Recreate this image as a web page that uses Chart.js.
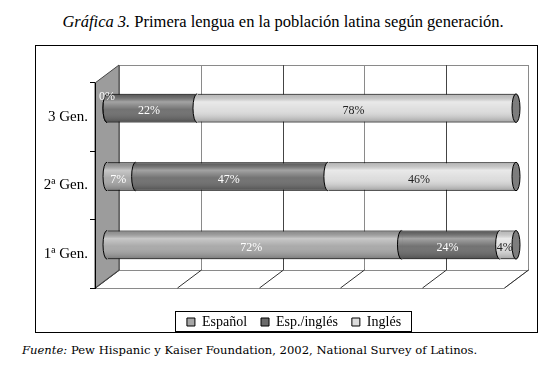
<!DOCTYPE html>
<html>
<head>
<meta charset="utf-8">
<script src="https://cdn.jsdelivr.net/npm/chart.js@4"></script>
<style>
  body { margin: 0; background: #fff; width: 560px; height: 370px; position: relative; font-family: "Liberation Serif", serif; color: #000; }
  #title { position: absolute; top: 12px; left: 0; width: 566px; text-align: center; font-size: 16.5px; }
  #frame { position: absolute; left: 35px; top: 45px; width: 501px; height: 286px; border: 1px solid #000; }
  #source { position: absolute; left: 22px; top: 343px; font-family: "DejaVu Serif", serif; font-size: 11.6px; }
</style>
</head>
<body>
<div id="title"><i>Gráfica 3.</i> Primera lengua en la población latina según generación.</div>
<div id="frame"><canvas id="chart" width="501" height="286"></canvas></div>
<div id="source"><i>Fuente:</i> Pew Hispanic y Kaiser Foundation, 2002, National Survey of Latinos.</div>
<script>
const generaciones = ["3 Gen.", "2ª Gen.", "1ª Gen."];
const series = ["Español", "Esp./inglés", "Inglés"];
const espanol = [0, 7, 72];
const espIngles = [22, 47, 24];
const ingles = [78, 46, 4];

const colors = ["#a6a6a6", "#6b6b6b", "#dcdcdc"];
const labelColors = ["#fff", "#fff", "#222"];

Chart.defaults.font.family = "'Liberation Serif', serif";
Chart.defaults.color = "#000";

// 3D depth of the plot box
const depthX = 24, depthY = -18;

// category labels are mirrored so they are not clipped to the narrow axis box
const measure = document.createElement("canvas").getContext("2d");
measure.font = "15px 'Liberation Serif', serif";
const widestCat = Math.max(...generaciones.map((g) => measure.measureText(g).width));

const boxPlugin = {
  id: "box3d",
  beforeDraw(chart) {
    const { ctx, chartArea: ca } = chart;
    const xs = chart.scales.x;
    ctx.save();
    // back wall
    ctx.fillStyle = "#fff";
    ctx.strokeStyle = "#8a8a8a";
    ctx.lineWidth = 1;
    ctx.fillRect(ca.left + depthX, ca.top + depthY, ca.right - ca.left, ca.bottom - ca.top);
    ctx.strokeRect(ca.left + depthX + 0.5, ca.top + depthY + 0.5, ca.right - ca.left, ca.bottom - ca.top);
    xs.ticks.forEach((t) => {
      const px = Math.round(xs.getPixelForValue(t.value)) + 0.5;
      ctx.strokeStyle = t.value % 40 === 0 && t.value > 0 ? "#444" : "#8a8a8a";
      ctx.beginPath();
      ctx.moveTo(px + depthX, ca.top + depthY);
      ctx.lineTo(px + depthX, ca.bottom + depthY);
      ctx.stroke();
    });
    // floor
    ctx.strokeStyle = "#8a8a8a";
    ctx.beginPath();
    ctx.moveTo(ca.left, ca.bottom + 0.5);
    ctx.lineTo(ca.left + depthX, ca.bottom + depthY + 0.5);
    ctx.lineTo(ca.right + depthX, ca.bottom + depthY + 0.5);
    ctx.lineTo(ca.right, ca.bottom + 0.5);
    ctx.closePath();
    ctx.fillStyle = "#fff";
    ctx.fill();
    ctx.stroke();
    xs.ticks.forEach((t) => {
      const px = Math.round(xs.getPixelForValue(t.value)) + 0.5;
      ctx.strokeStyle = "#333";
      ctx.beginPath();
      ctx.moveTo(px, ca.bottom);
      ctx.lineTo(px + depthX, ca.bottom + depthY);
      ctx.stroke();
    });
    // left wall
    ctx.beginPath();
    ctx.moveTo(ca.left, ca.top);
    ctx.lineTo(ca.left + depthX, ca.top + depthY);
    ctx.lineTo(ca.left + depthX, ca.bottom + depthY);
    ctx.lineTo(ca.left, ca.bottom);
    ctx.closePath();
    ctx.fillStyle = "#9c9c9c";
    ctx.fill();
    ctx.strokeStyle = "#444";
    ctx.stroke();
    ctx.restore();
  },
  beforeDatasetsDraw(chart) {
    chart.ctx.save();
    chart.ctx.translate(depthX / 2, depthY / 2);
  },
  afterDatasetsDraw(chart) {
    const ctx = chart.ctx;
    const shine = (top, h) => {
      const g = ctx.createLinearGradient(0, top, 0, top + h);
      g.addColorStop(0, "rgba(0,0,0,0.15)");
      g.addColorStop(0.28, "rgba(255,255,255,0.38)");
      g.addColorStop(0.55, "rgba(255,255,255,0.05)");
      g.addColorStop(1, "rgba(0,0,0,0.28)");
      return g;
    };
    chart.data.datasets.forEach((ds, di) => {
      chart.getDatasetMeta(di).data.forEach((bar) => {
        const { x, y, base, height } = bar.getProps(["x", "y", "base", "height"], true);
        const left = Math.min(x, base), right = Math.max(x, base);
        const top = y - height / 2;
        ctx.fillStyle = shine(top, height);
        ctx.fillRect(left, top, right - left, height);
        // curved left face of the segment
        ctx.beginPath();
        ctx.ellipse(left, y, 4, height / 2, 0, Math.PI / 2, Math.PI * 1.5);
        ctx.lineTo(left + 1, top);
        ctx.lineTo(left + 1, top + height);
        ctx.closePath();
        ctx.fillStyle = ds.backgroundColor;
        ctx.fill();
        ctx.fillStyle = shine(top, height);
        ctx.fill();
        ctx.beginPath();
        ctx.ellipse(left, y, 4, height / 2, 0, Math.PI / 2, Math.PI * 1.5);
        ctx.strokeStyle = "#000";
        ctx.lineWidth = 1;
        ctx.stroke();
        // end cap of the whole cylinder
        if (di === chart.data.datasets.length - 1) {
          ctx.beginPath();
          ctx.ellipse(right, y, 4, height / 2, 0, 0, Math.PI * 2);
          ctx.fillStyle = "#7d7d7d";
          ctx.fill();
          ctx.stroke();
        }
      });
    });
    // value labels
    ctx.font = "12px 'Liberation Serif', serif";
    ctx.textAlign = "center";
    ctx.textBaseline = "middle";
    chart.data.datasets.forEach((ds, di) => {
      chart.getDatasetMeta(di).data.forEach((bar, i) => {
        const { x, y, base, height } = bar.getProps(["x", "y", "base", "height"], true);
        const v = ds.data[i];
        ctx.fillStyle = labelColors[di];
        if (v === 0) {
          ctx.fillText(v + "%", base, y - height / 2 + 3);
        } else {
          ctx.fillText(v + "%", (x + base) / 2 - 3, y + 3);
        }
      });
    });
    ctx.restore();
  },
  afterDraw(chart) {
    // frame round the legend
    const hb = chart.legend.legendHitBoxes;
    if (!hb || !hb.length) return;
    const ctx = chart.ctx;
    const last = hb[hb.length - 1];
    const x0 = Math.round(hb[0].left - 12) + 0.5;
    const x1 = Math.round(last.left + last.width + 10) + 0.5;
    const y0 = Math.round(hb[0].top - 4) + 0.5;
    ctx.save();
    ctx.strokeStyle = "#000";
    ctx.lineWidth = 1;
    ctx.strokeRect(x0, y0, x1 - x0, 20);
    ctx.restore();
  }
};

new Chart(document.getElementById("chart"), {
  type: "bar",
  data: {
    labels: generaciones,
    datasets: [
      { label: series[0], data: espanol, backgroundColor: colors[0] },
      { label: series[1], data: espIngles, backgroundColor: colors[1] },
      { label: series[2], data: ingles, backgroundColor: colors[2] }
    ]
  },
  options: {
    indexAxis: "y",
    responsive: false,
    animation: false,
    layout: { padding: { left: 48, right: 33, top: 37, bottom: 0 } },
    datasets: {
      bar: {
        categoryPercentage: 1,
        barPercentage: 0.42,
        borderColor: "#000",
        borderWidth: { top: 1, bottom: 1, left: 0, right: 0 },
        borderSkipped: false
      }
    },
    plugins: {
      tooltip: { enabled: false },
      legend: {
        position: "bottom",
        maxHeight: 31,
        labels: {
          boxWidth: 8,
          boxHeight: 8,
          padding: 14,
          color: "#000",
          font: { family: "'Liberation Serif', serif", size: 14 },
          generateLabels: (chart) =>
            Chart.defaults.plugins.legend.labels.generateLabels(chart).map((l) => ({ ...l, lineWidth: 1, strokeStyle: "#000" }))
        }
      }
    },
    scales: {
      x: {
        stacked: true,
        min: 0,
        max: 100,
        ticks: { display: false, stepSize: 20 },
        grid: { display: false },
        border: { display: false },
        afterFit: (s) => { s.height = 13; }
      },
      y: {
        stacked: true,
        grid: { drawOnChartArea: false, tickLength: 5, color: "#000", offset: true },
        border: { color: "#000" },
        ticks: { color: "#000", mirror: true, crossAlign: "far", padding: -(7 + widestCat), font: { size: 15 } },
        afterFit: (s) => { s.width = 11; }
      }
    }
  },
  plugins: [boxPlugin]
});
</script>
</body>
</html>
